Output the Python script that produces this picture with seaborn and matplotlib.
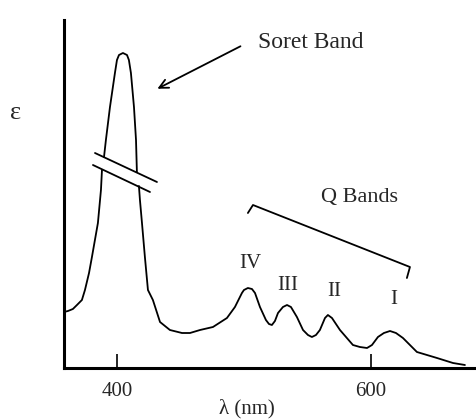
import numpy as np
import pandas as pd
import matplotlib
matplotlib.use("Agg")
import matplotlib.pyplot as plt
import seaborn as sns

# Absorption spectrum (wavelength in nm, epsilon in arbitrary units)
seg_lower_left_nm = [358.3, 361.4, 365.3, 368.5, 372.4, 374.8, 378.0, 380.3, 385.0, 387.4, 388.2]
seg_lower_left_eps = [56, 57, 59, 63, 68, 78, 95, 111, 145, 178, 198]

seg_top_nm = [389.8, 391.3, 394.5, 398.4, 400.0, 401.6, 404.7, 407.9, 409.4, 411.0, 413.4, 415.0, 415.7]
seg_top_eps = [211, 228, 261, 295, 308, 313, 315, 313, 308, 295, 261, 228, 196]

seg_right_nm = [417.3, 418.1, 419.7, 422.0, 424.4, 428.3, 433.9, 441.7, 451.2, 457.5, 465.4, 475.6,
                486.6, 492.9, 498.4, 500.0, 503.1, 506.3, 508.7, 512.6, 517.3, 519.7, 522.0,
                524.4, 526.8, 530.7, 533.9, 537.0, 541.7, 546.5, 550.4, 553.5, 556.7, 559.8,
                563.8, 566.1, 569.3, 575.6, 585.8, 591.3, 596.9, 600.8, 605.5, 610.2, 615.0,
                619.7, 625.2, 636.2, 652.0, 664.6, 674.0]
seg_right_eps = [182, 168, 145, 111, 78, 68, 46, 38, 35, 35, 38, 41,
                 50, 61, 75, 78, 80, 79, 75, 61, 48, 44, 43,
                 47, 55, 61, 63, 61, 51, 38, 33, 31, 33, 38,
                 50, 53, 50, 38, 23, 21, 20, 23, 31, 35, 37,
                 35, 30, 16, 10, 5, 3]

tick_values = [400, 600]
tick_labels = ["400", "600"]
band_labels = ["IV", "III", "II", "I"]
band_label_nm = [504.7, 534.6, 570.9, 618.1]
band_label_eps = [104, 83, 76, 68]

df = pd.concat([
    pd.DataFrame({"nm": seg_lower_left_nm, "eps": seg_lower_left_eps, "seg": "a"}),
    pd.DataFrame({"nm": seg_top_nm, "eps": seg_top_eps, "seg": "b"}),
    pd.DataFrame({"nm": seg_right_nm, "eps": seg_right_eps, "seg": "c"}),
], ignore_index=True)

sns.set_theme(style="white")
plt.rcParams["font.family"] = ["Liberation Serif", "DejaVu Serif"]

W, H = 477, 419
fig = plt.figure(figsize=(W / 100, H / 100), dpi=100)
ax = fig.add_axes([64 / W, 51 / H, 413 / W, 348 / H])

sns.lineplot(data=df, x="nm", y="eps", units="seg", estimator=None, color="black",
             linewidth=1.3, ax=ax, sort=False, legend=False)

ax.set_xlim(358.3, 683.5)
ax.set_ylim(0, 348)

for s in ["top", "right"]:
    ax.spines[s].set_visible(False)
for s in ["left", "bottom"]:
    ax.spines[s].set_color("black")
    ax.spines[s].set_linewidth(2.2)

ax.set_xticks(tick_values)
ax.set_xticklabels(tick_labels, fontsize=15)
ax.set_yticks([])
ax.tick_params(axis="x", direction="in", length=10, width=1.2, color="black", pad=10,
               bottom=True)
ax.set_xlabel("λ (nm)", fontsize=15)
ax.xaxis.set_label_coords((247 - 64) / 413, (368 - 399) / 348)
ax.set_ylabel("")

# break marks on the Soret band
ax.plot([382.7, 431.5], [215, 186], color="black", linewidth=1.3)
ax.plot([381.1, 426.0], [203, 176], color="black", linewidth=1.3)

# Soret band annotation
ax.annotate("", xy=(429.9, 278), xytext=(499.2, 323),
            arrowprops=dict(arrowstyle="->", color="black", lw=1.3, mutation_scale=16))
ax.text(511.0, 326, "Soret Band", fontsize=17, ha="left", va="center")

# Q bands bracket
ax.plot([503.1, 507.1, 630.7, 628.3], [155, 163, 101, 90], color="black", linewidth=1.3)
ax.text(591.3, 171, "Q Bands", fontsize=16, ha="center", va="center")

for lab, xv, yv in zip(band_labels, band_label_nm, band_label_eps):
    ax.text(xv, yv, lab, fontsize=15, ha="center", va="center")

fig.text(16 / W, 1 - 113 / H, "ε", fontsize=19, ha="center", va="center")

fig.savefig("out.png", dpi=100)
